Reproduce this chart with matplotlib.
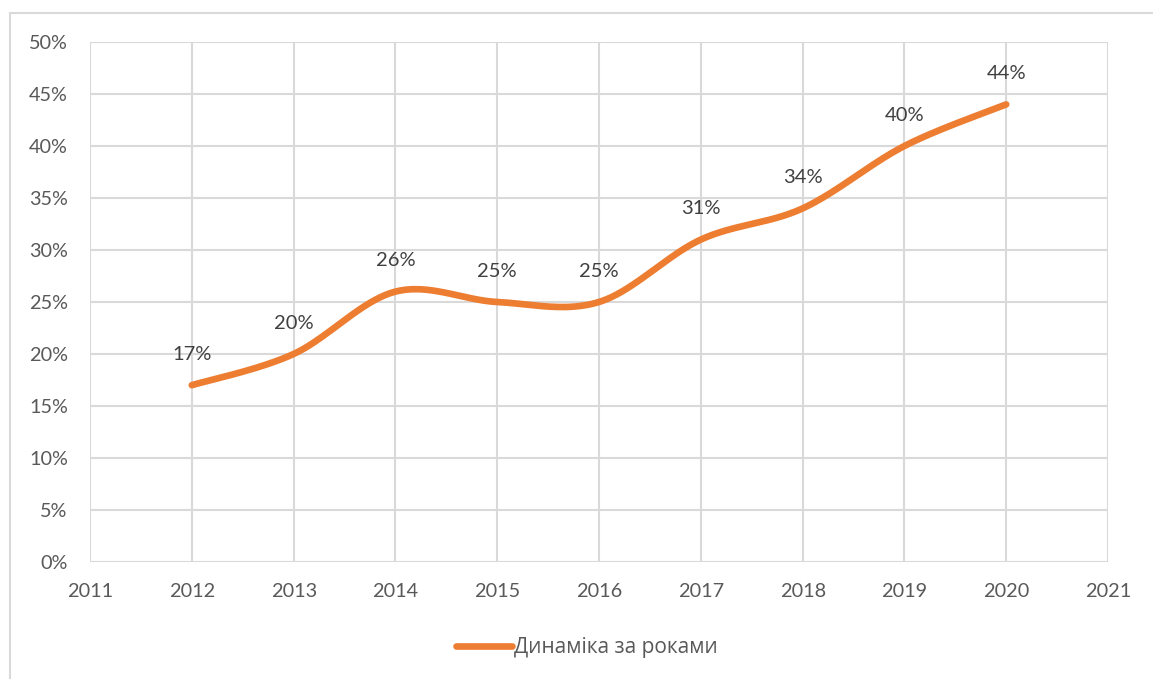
import numpy as np
import matplotlib.pyplot as plt
from matplotlib.patches import Rectangle

years = [2012, 2013, 2014, 2015, 2016, 2017, 2018, 2019, 2020]
values = [17, 20, 26, 25, 25, 31, 34, 40, 44]
series_name = "Динаміка за роками"

plt.rcParams['font.family'] = ['Lato', 'Open Sans', 'DejaVu Sans']

ORANGE = "#ED7D31"
GRID = "#D9D9D9"
TXT = "#595959"


def smooth(x, y, n=40):
    # Excel-style smoothed line: bezier segments, control points from neighbours
    x = np.asarray(x, float)
    y = np.asarray(y, float)
    px = np.concatenate([[x[0]], x, [x[-1]]])
    py = np.concatenate([[y[0]], y, [y[-1]]])
    xs, ys = [], []
    t = np.linspace(0, 1, n)
    for i in range(1, len(px) - 2):
        p0 = np.array([px[i], py[i]])
        p3 = np.array([px[i + 1], py[i + 1]])
        c1 = p0 + (np.array([px[i + 1], py[i + 1]]) - np.array([px[i - 1], py[i - 1]])) / 6
        c2 = p3 - (np.array([px[i + 2], py[i + 2]]) - np.array([px[i], py[i]])) / 6
        b = ((1 - t) ** 3)[:, None] * p0 + (3 * (1 - t) ** 2 * t)[:, None] * c1 \
            + (3 * (1 - t) * t ** 2)[:, None] * c2 + (t ** 3)[:, None] * p3
        xs.extend(b[:, 0])
        ys.extend(b[:, 1])
    return np.array(xs), np.array(ys)


fig = plt.figure(figsize=(11.53, 6.79), dpi=100)
ax = fig.add_axes([90 / 1153, 117 / 679, 1018 / 1153, 520 / 679])

fig.add_artist(Rectangle((10 / 1153, -0.1), 1.2, 1.1 - 13 / 679,
                         transform=fig.transFigure, fill=False,
                         edgecolor=GRID, linewidth=1.5))

sx, sy = smooth(years, values)
ax.plot(sx, sy, color=ORANGE, linewidth=4.8, solid_capstyle="round",
        label=series_name, zorder=3)

for x, v in zip(years, values):
    ax.annotate(f"{v}%", (x, v), xytext=(0, 16), textcoords="offset points",
                ha="center", va="bottom", fontsize=14.5, color="#404040")

ax.set_xlim(2011, 2021)
ax.set_ylim(0, 50)
ax.set_xticks(range(2011, 2022))
ax.set_yticks(range(0, 51, 5))
ax.set_yticklabels([f"{v}%" for v in range(0, 51, 5)])
ax.grid(True, color=GRID, linewidth=1.5)
ax.set_axisbelow(True)
for s in ax.spines.values():
    s.set_visible(False)
ax.tick_params(length=0, labelsize=14.3, labelcolor=TXT)
ax.tick_params(axis="x", pad=15)
ax.tick_params(axis="y", pad=16)

leg = fig.legend(loc="center", bbox_to_anchor=(587 / 1153, 1 - 648 / 679),
                 frameon=False, handlelength=2.7, handletextpad=0.1,
                 prop={"family": ["Open Sans", "DejaVu Sans"], "size": 15})
for t in leg.get_texts():
    t.set_color(TXT)

fig.savefig("out.png", dpi=100)
